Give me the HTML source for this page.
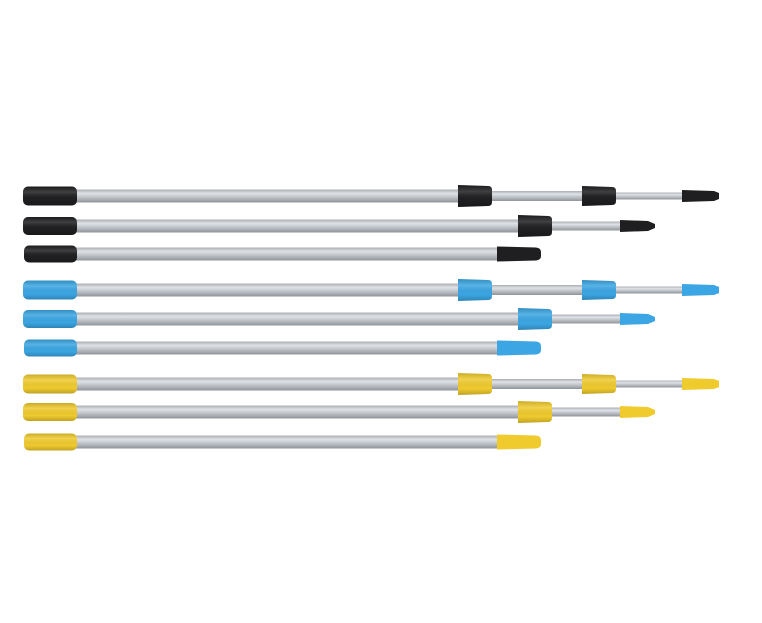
<!DOCTYPE html>
<html><head><meta charset="utf-8"><style>html,body{margin:0;padding:0;background:#fff}svg{display:block}</style></head>
<body>
<svg width="762" height="623" viewBox="0 0 762 623" xmlns="http://www.w3.org/2000/svg">
<defs>
<linearGradient id="tube" x1="0" y1="0" x2="0" y2="1">
<stop offset="0" stop-color="#a9adb3"/><stop offset="0.3" stop-color="#dfe2e6"/><stop offset="0.6" stop-color="#bfc3c8"/><stop offset="1" stop-color="#8f949a"/>
</linearGradient>
<linearGradient id="shade" x1="0" y1="0" x2="0" y2="1">
<stop offset="0" stop-color="#000" stop-opacity="0.15"/><stop offset="0.3" stop-color="#fff" stop-opacity="0.15"/><stop offset="0.7" stop-color="#000" stop-opacity="0"/><stop offset="1" stop-color="#000" stop-opacity="0.2"/>
</linearGradient>
<g id="A">
<rect x="75" y="-6.5" width="390" height="13" fill="url(#tube)"/>
<rect x="490" y="-5" width="95" height="10" fill="url(#tube)"/>
<rect x="614" y="-3.5" width="72" height="7" fill="url(#tube)"/>
<rect x="23" y="-9.5" width="54" height="19" rx="5" fill="currentColor"/>
<path d="M458,-11 L488,-10 Q492,-10 492,-6 L492,6 Q492,10 488,10 L458,11 Z" fill="currentColor"/>
<path d="M582,-10 L612,-9 Q616,-9 616,-5 L616,5 Q616,9 612,9 L582,10 Z" fill="currentColor"/>
<path d="M682,-6 L714,-5 L719,-3 L719,3 L714,5 L682,6 Z" fill="currentColor"/>
<rect x="23" y="-9.5" width="54" height="19" rx="5" fill="url(#shade)"/>
<path d="M458,-11 L488,-10 Q492,-10 492,-6 L492,6 Q492,10 488,10 L458,11 Z" fill="url(#shade)"/>
<path d="M582,-10 L612,-9 Q616,-9 616,-5 L616,5 Q616,9 612,9 L582,10 Z" fill="url(#shade)"/>
</g>
<g id="B">
<rect x="75" y="-6.5" width="446" height="13" fill="url(#tube)"/>
<rect x="550" y="-4.5" width="72" height="9" fill="url(#tube)"/>
<rect x="23" y="-9" width="54" height="18" rx="5" fill="currentColor"/>
<path d="M518,-11 L548,-10 Q552,-10 552,-6 L552,6 Q552,10 548,10 L518,11 Z" fill="currentColor"/>
<path d="M620,-6 L648,-5 L655,-2 L655,2 L648,5 L620,6 Z" fill="currentColor"/>
<rect x="23" y="-9" width="54" height="18" rx="5" fill="url(#shade)"/>
<path d="M518,-11 L548,-10 Q552,-10 552,-6 L552,6 Q552,10 548,10 L518,11 Z" fill="url(#shade)"/>
</g>
<g id="C">
<rect x="75" y="-6.5" width="425" height="13" fill="url(#tube)"/>
<rect x="24" y="-8.5" width="53" height="17" rx="5" fill="currentColor"/>
<path d="M497,-7.5 L536,-6.5 Q541,-6 541,-2 L541,2 Q541,6 536,6.5 L497,7.5 Z" fill="currentColor"/>
<rect x="24" y="-8.5" width="53" height="17" rx="5" fill="url(#shade)"/>
</g>
</defs>
<use href="#A" transform="translate(0,196)" color="#1f1f21"/>
<use href="#B" transform="translate(0,226)" color="#1f1f21"/>
<use href="#C" transform="translate(0,254)" color="#1f1f21"/>
<use href="#A" transform="translate(0,290)" color="#3ba6e3"/>
<use href="#B" transform="translate(0,319)" color="#3ba6e3"/>
<use href="#C" transform="translate(0,348)" color="#3ba6e3"/>
<use href="#A" transform="translate(0,384)" color="#f0cb2e"/>
<use href="#B" transform="translate(0,412)" color="#f0cb2e"/>
<use href="#C" transform="translate(0,442)" color="#f0cb2e"/>
</svg>
</body></html>
